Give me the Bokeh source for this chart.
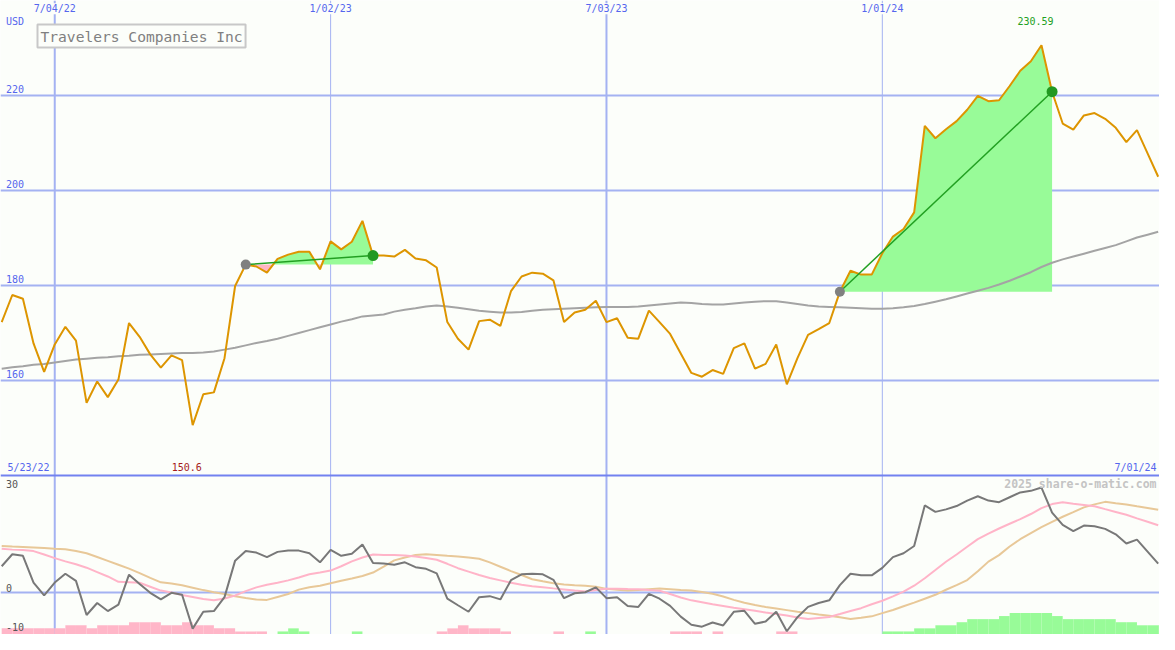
import numpy as np
import pandas as pd
from bokeh.plotting import figure
from bokeh.models import Range1d, Span, Label
from bokeh.embed import file_html
from bokeh.resources import INLINE

# ---------------- data (weekly, 2022-05-30 .. 2024-07-01) ----------------
dates = pd.date_range("2022-05-30", "2024-07-01", freq="7D")

price = [172.3, 178.0, 177.2, 167.8, 161.8, 167.6, 171.3, 168.4, 155.3, 159.8,
         156.5, 160.2, 172.1, 169.2, 165.5, 162.7, 165.3, 164.3, 150.6, 157.1,
         157.5, 164.7, 179.9, 184.4, 184.0, 182.7, 185.6, 186.5, 187.1, 187.1,
         183.4, 189.3, 187.6, 189.2, 193.6, 186.3, 186.3, 186.1, 187.5, 185.7,
         185.3, 183.8, 172.3, 168.8, 166.5, 172.5, 172.8, 171.5, 178.8, 181.9,
         182.7, 182.5, 181.1, 172.3, 174.3, 174.9, 176.8, 172.3, 173.1, 169.0,
         168.8, 174.7, 172.3, 169.8, 165.7, 161.6, 160.8, 162.2, 161.4, 166.8,
         167.8, 162.5, 163.5, 167.6, 159.2, 164.7, 169.6, 170.8, 172.1, 178.7,
         183.1, 182.3, 182.3, 186.8, 190.3, 191.9, 195.4, 213.6, 211.0, 212.9,
         214.6, 217.0, 219.9, 218.8, 219.0, 222.0, 225.2, 227.2, 230.59, 220.8,
         214.1, 212.8, 215.8, 216.3, 215.1, 213.2, 210.2, 212.7, 207.8, 202.9]

ma_long = [162.5, 162.8, 163.0, 163.3, 163.5, 163.8, 164.1, 164.4, 164.6, 164.8,
           164.9, 165.1, 165.2, 165.4, 165.5, 165.6, 165.7, 165.8, 165.8, 165.9,
           166.1, 166.5, 166.9, 167.4, 167.9, 168.3, 168.8, 169.4, 170.0, 170.6,
           171.2, 171.8, 172.4, 172.9, 173.5, 173.7, 173.9, 174.5, 174.9, 175.2,
           175.6, 175.8, 175.6, 175.3, 175.0, 174.7, 174.5, 174.3, 174.3, 174.4,
           174.7, 174.9, 175.0, 175.1, 175.2, 175.3, 175.4, 175.5, 175.5, 175.5,
           175.6, 175.8, 176.0, 176.2, 176.4, 176.3, 176.1, 176.0, 176.0, 176.2,
           176.4, 176.6, 176.7, 176.7, 176.4, 176.1, 175.8, 175.6, 175.5, 175.4,
           175.3, 175.2, 175.1, 175.1, 175.2, 175.4, 175.7, 176.1, 176.6, 177.1,
           177.7, 178.3, 178.9, 179.5, 180.2, 181.0, 181.9, 182.8, 183.9, 184.8,
           185.5, 186.1, 186.7, 187.3, 187.9, 188.5, 189.3, 190.1, 190.7, 191.3]

osc = [6.43, 9.36, 8.98, 2.45, -0.71, 2.45, 4.60, 2.86, -5.48, -2.55,
       -4.52, -2.93, 4.36, 2.07, -0.07, -1.67, -0.07, -0.55, -8.81, -4.69,
       -4.52, -1.12, 7.79, 10.17, 9.76, 8.64, 9.93, 10.24, 10.24, 9.60,
       7.38, 10.40, 8.98, 9.45, 11.74, 7.21, 7.07, 6.79, 7.38, 6.19,
       5.79, 4.69, -1.50, -3.10, -4.69, -1.12, -0.88, -1.67, 3.02, 4.45,
       4.60, 4.45, 3.10, -1.36, -0.17, 0.07, 1.26, -1.36, -1.12, -3.26,
       -3.50, -0.31, -1.50, -3.26, -5.88, -7.86, -8.33, -7.31, -8.02, -4.69,
       -4.45, -7.62, -7.07, -4.69, -9.45, -6.02, -3.50, -2.55, -1.90, 1.83,
       4.60, 4.21, 4.21, 6.02, 8.64, 9.60, 11.36, 21.26, 19.69, 20.31,
       21.12, 22.45, 23.50, 22.45, 22.07, 23.26, 24.45, 24.83, 25.64, 19.52,
       16.50, 15.00, 16.36, 16.19, 15.55, 14.21, 11.98, 12.93, 10.00, 7.07]

osc_fast = [10.71, 10.48, 10.36, 10.12, 9.29, 8.40, 7.62, 6.90, 6.07, 5.00,
            3.93, 2.62, 2.50, 2.38, 1.43, 0.48, 0.00, -0.60, -1.07, -1.55,
            -1.90, -1.43, -0.71, 0.36, 1.26, 1.90, 2.38, 2.98, 3.69, 4.45,
            4.88, 5.36, 6.43, 7.62, 8.57, 9.29, 9.17, 9.17, 9.05, 8.81,
            8.45, 8.02, 7.02, 5.95, 5.12, 4.29, 3.57, 2.98, 2.38, 1.90,
            1.55, 1.31, 1.02, 0.76, 0.48, 0.24, 0.60, 0.95, 0.95, 0.88,
            0.83, 0.60, 0.43, -0.36, -1.19, -1.90, -2.38, -2.86, -3.26, -3.69,
            -4.05, -4.45, -4.88, -5.24, -5.60, -6.07, -6.43, -6.19, -5.95, -5.24,
            -4.52, -3.81, -2.86, -2.00, -0.93, 0.21, 1.67, 3.50, 5.50, 7.52,
            9.29, 11.17, 13.05, 14.40, 15.64, 16.79, 17.93, 19.17, 20.62, 21.60,
            22.02, 21.69, 21.38, 21.07, 20.36, 19.67, 18.98, 18.10, 17.29, 16.43]

osc_slow = [11.36, 11.24, 11.14, 11.02, 10.88, 10.71, 10.55, 10.12, 9.60, 8.69,
            7.74, 6.79, 5.83, 4.76, 3.57, 2.50, 2.19, 1.79, 1.19, 0.60,
            0.07, -0.36, -0.90, -1.31, -1.71, -1.79, -1.07, -0.36, 0.71, 1.31,
            1.67, 2.26, 2.86, 3.45, 4.05, 4.88, 6.31, 7.86, 8.57, 9.17,
            9.36, 9.17, 8.98, 8.81, 8.57, 8.26, 7.38, 6.31, 5.24, 4.29,
            3.26, 2.74, 2.26, 1.95, 1.79, 1.67, 1.43, 0.90, 0.71, 0.52,
            0.60, 0.83, 1.02, 0.83, 0.64, 0.48, 0.12, -0.29, -0.95, -1.79,
            -2.50, -3.02, -3.52, -3.90, -4.29, -4.69, -5.02, -5.36, -5.67, -6.05,
            -6.43, -6.17, -5.81, -5.02, -4.26, -3.33, -2.45, -1.50, -0.55, 0.69,
            1.81, 3.05, 5.19, 7.55, 9.14, 11.24, 13.02, 14.50, 15.95, 17.26,
            18.50, 19.64, 20.80, 21.52, 22.14, 21.81, 21.50, 21.05, 20.64, 20.19]

hist = [-2, -2, -2, -2, -2, -2, -3, -3, -2, -3,
        -3, -3, -4, -4, -4, -3, -3, -4, -3, -3,
        -2, -2, -1, -1, -1, 0, 1, 2, 1, 0,
        0, 0, 0, 1, 0, 0, 0, 0, 0, 0,
        0, -1, -2, -3, -2, -2, -2, -1, 0, 0,
        0, 0, -1, 0, 0, 1, 0, 0, 0, 0,
        0, 0, 0, -1, -1, -1, 0, -1, 0, 0,
        0, 0, 0, -1, -1, 0, 0, 0, 0, 0,
        0, 0, 0, 1, 1, 1, 2, 2, 3, 3,
        4, 5, 5, 5, 6, 7, 7, 7, 7, 6,
        5, 5, 5, 5, 5, 4, 4, 3, 3, 3]

signals = [("2022-11-07", "2023-01-30"), ("2023-12-04", "2024-04-22")]

grid_prices = [160, 180, 200, 220]
date_ticks = ["2022-07-04", "2023-01-02", "2023-07-03", "2024-01-01"]
date_tick_labels = ["7/04/22", "1/02/23", "7/03/23", "1/01/24"]
date_tick_major = [True, False, True, False]
title = "Travelers Companies Inc"
min_label, max_label = "150.6", "230.59"
start_label, end_label = "5/23/22", "7/01/24"
osc_labels = [("30", 496), ("0", 602.5), ("-10", 642.5)]

# ---------------- layout constants ----------------
W, H = 1159, 634
REF_W, REF_H = 1175, 650
DAY = 86400000.0
PX_PER_DAY = 839 / 546.0
t_ref = pd.Timestamp("2022-07-04").value / 1e6
X0 = t_ref - 55 / PX_PER_DAY * DAY
X1 = X0 + REF_W / PX_PER_DAY * DAY
P_PX = 4.87                      # ref px per price unit
PRICE_HI = 240.0
PRICE_LO = PRICE_HI - REF_H / P_PX
O_PX, O_ZERO = 4.2, 607.0        # ref px per osc unit, ref y of zero
OSC_LO, OSC_HI = -(REF_H - O_ZERO) / O_PX, O_ZERO / O_PX
H_PX = 3.15
HIST_HI = REF_H / H_PX


def SX(xr):
    return X0 + xr / REF_W * (X1 - X0)


def PY(yr):
    return PRICE_HI - yr / P_PX


def OY(yr):
    return (O_ZERO - yr) / O_PX


def ms(d):
    return pd.Timestamp(d).value / 1e6


BG = "#fcfefa"
BLUE_TXT = "#5566ee"
GRID = "#a4b2f2"
FONT = "DejaVu Sans Mono"

xs = np.array([ms(d) for d in dates])
price_a = np.array(price)

p = figure(width=W, height=H, x_range=Range1d(X0, X1), y_range=Range1d(PRICE_LO, PRICE_HI),
           x_axis_location=None, y_axis_location=None, min_border=0,
           output_backend="svg", toolbar_location=None,
           background_fill_color=BG, border_fill_color=BG, outline_line_color=None)
p.extra_y_ranges = {"osc": Range1d(OSC_LO, OSC_HI), "hist": Range1d(0, HIST_HI)}
p.xgrid.visible = False
p.ygrid.visible = False

# grid lines
for v in grid_prices:
    p.add_layout(Span(location=v, dimension="width", line_color=GRID, line_width=2, level="underlay"))
for d, major in zip(date_ticks, date_tick_major):
    p.add_layout(Span(location=ms(d), dimension="height", line_color=GRID,
                      line_width=2 if major else 1, level="underlay"))
p.add_layout(Span(location=0, dimension="width", y_range_name="osc", line_color=GRID,
                  line_width=2, level="underlay"))
p.add_layout(Span(location=PY(487), dimension="width", line_color="#7282f0", line_width=2,
                  level="underlay"))

# signal fills
for s, e in signals:
    i0 = int(np.where(dates == pd.Timestamp(s))[0][0])
    i1 = int(np.where(dates == pd.Timestamp(e))[0][0])
    base = price_a[i0]
    sx, sy = xs[i0:i1 + 1], price_a[i0:i1 + 1]
    fx, fy = [sx[0]], [sy[0]]
    for i in range(len(sx) - 1):
        d0, d1 = sy[i] - base, sy[i + 1] - base
        if d0 * d1 < 0:
            t = d0 / (d0 - d1)
            fx.append(sx[i] + t * (sx[i + 1] - sx[i]))
            fy.append(base)
        fx.append(sx[i + 1])
        fy.append(sy[i + 1])
    fx, fy = np.array(fx), np.array(fy)
    p.varea(x=fx, y1=base, y2=np.maximum(fy, base), fill_color="#98fb98")
    p.varea(x=fx, y1=np.minimum(fy, base), y2=base, fill_color="#ffb6c1")

# histogram bars (bottom panel)
h = np.array(hist)
hcol = ["#98fb98" if v > 0 else "#ffb6c8" for v in h]
p.vbar(x=xs + 3.5 * DAY, width=7 * DAY, top=np.abs(h), bottom=0, y_range_name="hist",
       fill_color=hcol, line_color=None)

# oscillator lines
p.line(xs, osc_slow, y_range_name="osc", line_color="#e8c898", line_width=2)
p.line(xs, osc_fast, y_range_name="osc", line_color="#ffb4c8", line_width=2)
p.line(xs, osc, y_range_name="osc", line_color="#787878", line_width=2)

# price panel
p.line(xs, ma_long, line_color="#a4a4a4", line_width=2)
p.line(xs, price_a, line_color="#dd9500", line_width=2)
for s, e in signals:
    i0 = int(np.where(dates == pd.Timestamp(s))[0][0])
    i1 = int(np.where(dates == pd.Timestamp(e))[0][0])
    p.line([xs[i0], xs[i1]], [price_a[i0], price_a[i1]], line_color="#22a022", line_width=1.5)
    p.scatter([xs[i0]], [price_a[i0]], size=10, fill_color="#808080", line_color=None)
    p.scatter([xs[i1]], [price_a[i1]], size=11, fill_color="#229922", line_color=None)

# ---------------- texts ----------------
def lab(text, x, y, color, size="10px", align="left", y_range_name="default", **kw):
    p.add_layout(Label(text=text, x=x, y=y, text_color=color, text_font=FONT,
                       text_font_size=size, text_align=align, text_baseline="middle",
                       y_range_name=y_range_name, **kw))


for d, t in zip(date_ticks, date_tick_labels):
    lab(t, ms(d), PY(8.5), BLUE_TXT, align="center", background_fill_color=BG)
lab("USD", SX(5.5), PY(21.5), BLUE_TXT)
for v in grid_prices:
    lab(str(v), SX(5.5), v + 6.3 / P_PX, BLUE_TXT)
lab(title, SX(37.5), PY(36.5), "#808080", size="14.6px",
    background_fill_color=BG, border_line_color="#c8c8c8", border_line_width=2, padding=3)

imax = int(np.argmax(price_a))
imin = int(np.argmin(price_a))
lab(max_label, xs[imax], PY(21), "#22a022", align="center", x_offset=-6)
lab(min_label, xs[imin], PY(478.5), "#a51c1c", align="center", x_offset=-6)
lab(start_label, SX(7), PY(478.5), BLUE_TXT)
lab(end_label, SX(1172), PY(478.5), BLUE_TXT, align="right")
lab("2025 share-o-matic.com", SX(1172), OY(496), "#c4c4c4", size="11.5px", align="right",
    y_range_name="osc", text_font_style="bold")
for t, yr in osc_labels:
    lab(t, SX(5.5), OY(yr), "#555555", y_range_name="osc")

open("out.html", "w").write(file_html(p, INLINE))
